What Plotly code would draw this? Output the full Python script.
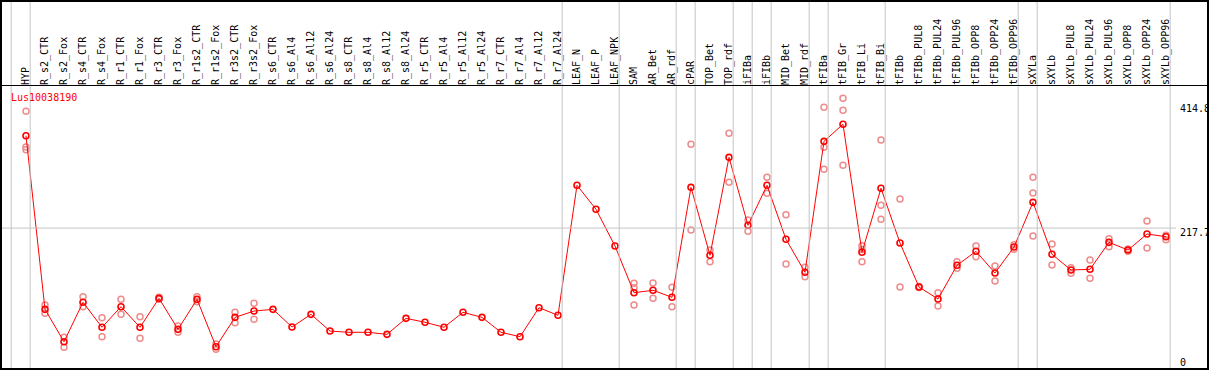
import plotly.graph_objects as go

W, H = 1209, 370

categories = [
    "HYP", "R_s2_CTR", "R_s2_Fox", "R_s4_CTR", "R_s4_Fox", "R_r1_CTR", "R_r1_Fox",
    "R_r3_CTR", "R_r3_Fox", "R_r1s2_CTR", "R_r1s2_Fox", "R_r3s2_CTR", "R_r3s2_Fox",
    "R_s6_CTR", "R_s6_Al4", "R_s6_Al12", "R_s6_Al24", "R_s8_CTR", "R_s8_Al4",
    "R_s8_Al12", "R_s8_Al24", "R_r5_CTR", "R_r5_Al4", "R_r5_Al12", "R_r5_Al24",
    "R_r7_CTR", "R_r7_Al4", "R_r7_Al12", "R_r7_Al24", "LEAF_N", "LEAF_P", "LEAF_NPK",
    "SAM", "AR_Bet", "AR_rdf", "cPAR", "TOP_Bet", "TOP_rdf", "iFIBa", "iFIBb",
    "MID_Bet", "MID_rdf", "tFIBa", "tFIB_Gr", "tFIB_Li", "tFIB_Bi", "tFIBb",
    "tFIBb_PUL8", "tFIBb_PUL24", "tFIBb_PUL96", "tFIBb_OPP8", "tFIBb_OPP24",
    "tFIBb_OPP96", "sXYLa", "sXYLb", "sXYLb_PUL8", "sXYLb_PUL24", "sXYLb_PUL96",
    "sXYLb_OPP8", "sXYLb_OPP24", "sXYLb_OPP96",
]

mean_values = [
    358.1, 94.2, 45.0, 104.9, 66.9, 98.2, 66.9, 110.9, 63.8, 109.4, 37.4, 82.0, 91.6,
    94.2, 67.3, 86.6, 61.2, 59.3, 59.3, 56.2, 80.5, 74.5, 66.9, 89.7, 82.0,
    59.3, 52.6, 96.7, 85.1, 282.7, 246.2, 190.4,
    119.5, 123.1, 112.5, 279.6, 176.3, 325.2, 221.9, 282.7,
    200.6, 150.5, 349.5, 375.4, 180.9, 278.1, 195.0,
    128.1, 109.9, 161.1, 182.4, 149.4, 188.9,
    256.8, 177.8, 154.0, 155.0, 196.0, 184.3, 208.7, 204.6,
]

rep_1 = [
    395.1, 100.8, 51.7, 113.4, 81.5, 109.4, 83.0, 112.5, 68.8, 113.4, 41.5, 89.7, 103.3,
    None, None, None, None, None, None, None, None, None, None, None, None,
    None, None, None, None, None, None, None,
    133.7, 134.2, 127.7, 345.0, 184.3, 361.7, 229.9, 294.8,
    238.0, 158.1, 401.2, 414.8, 190.9, 351.5, 261.9,
    129.0, 119.5, 166.6, 190.4, 160.0, 192.4,
    294.8, 193.5, 157.4, 169.1, 201.5, 186.0, 228.4, 206.7,
]

rep_2 = [
    341.0, 88.1, 36.5, 98.2, 52.6, 86.6, 50.2, 109.5, 59.3, 105.8, 33.4, 73.9, 79.0,
    None, None, None, None, None, None, None, None, None, None, None, None,
    None, None, None, None, None, None, None,
    127.0, 110.9, 98.2, 214.7, 166.6, 287.2, 212.8, 270.5,
    163.1, 143.8, 340.4, 396.7, 185.0, 252.3, 128.1,
    127.2, 99.2, 156.5, 174.2, 137.2, 185.4,
    271.0, 161.6, 148.9, 141.3, 189.4, 182.6, 187.4, 200.0,
]

rep_3 = [
    336.8, None, None, None, None, None, None, None, None, None, None, None, None,
    None, None, None, None, None, None, None, None, None, None, None, None,
    None, None, None, None, None, None, None,
    100.8, None, None, None, None, None, None, None,
    None, None, 307.0, 313.1, 166.6, 231.0, None,
    None, None, None, None, None, None,
    205.6, None, None, None, None, None, None, None,
]

group_sizes = [1, 28, 3, 3, 1, 2, 1, 1, 2, 1, 3, 7, 1, 7]
gene_name = "Lus10038190"
scale_labels = ["414.8", "217.7", "0"]
reference_value = 217.7

FONT = "DejaVu Sans Mono"
GRAY = "#c4c4c4"


def px_x(p):
    return p / W


def px_y(p):
    return 1 - p / H


x_idx = list(range(len(categories)))

rep_x, rep_y = [], []
for reps in (rep_1, rep_2, rep_3):
    for i, v in enumerate(reps):
        if v is not None:
            rep_x.append(i)
            rep_y.append(v)

fig = go.Figure()
fig.add_trace(go.Scatter(
    x=rep_x, y=rep_y, mode="markers",
    marker=dict(symbol="circle-open", size=6, color="rgb(238,140,140)",
                line=dict(width=1.5, color="rgb(238,140,140)")),
    hoverinfo="skip", showlegend=False,
))
fig.add_trace(go.Scatter(
    x=x_idx, y=mean_values, mode="lines+markers",
    line=dict(color="red", width=1),
    marker=dict(symbol="circle-open", size=6, color="red",
                line=dict(width=1.6, color="red")),
    showlegend=False,
))

shapes = []
# group separators
ends = []
acc = -1
for s in group_sizes:
    acc += s
    ends.append(acc)
for e in [-1] + ends:
    shapes.append(dict(type="line", xref="x", yref="paper",
                       x0=e + 0.22, x1=e + 0.22, y0=px_y(369), y1=px_y(0),
                       line=dict(color=GRAY, width=1)))
# reference line
shapes.append(dict(type="line", xref="paper", yref="y",
                   x0=px_x(0), x1=px_x(1176), y0=reference_value, y1=reference_value,
                   line=dict(color=GRAY, width=1)))
# header separator
shapes.append(dict(type="line", xref="paper", yref="paper",
                   x0=px_x(0), x1=px_x(1208), y0=px_y(85.5), y1=px_y(85.5),
                   line=dict(color="black", width=1)))
# border
shapes.append(dict(type="rect", xref="paper", yref="paper",
                   x0=px_x(1), x1=px_x(1208), y0=px_y(369), y1=px_y(1),
                   line=dict(color="black", width=2), fillcolor="rgba(0,0,0,0)"))

annotations = [
    dict(text=gene_name, xref="paper", yref="paper", x=px_x(9), y=px_y(98),
         xanchor="left", yanchor="middle", showarrow=False,
         font=dict(family=FONT, size=10, color="red")),
]
for lab, yc in zip(scale_labels, [108, 232.7, 362.3]):
    annotations.append(dict(text=lab, xref="paper", yref="paper", x=px_x(1177.5), y=px_y(yc),
                            xanchor="left", yanchor="middle", showarrow=False,
                            font=dict(family=FONT, size=10, color="black")))

fig.update_layout(
    width=W, height=H,
    margin=dict(l=0, r=0, t=0, b=0),
    paper_bgcolor="white", plot_bgcolor="rgba(0,0,0,0)",
    xaxis=dict(range=[-26 / 19, (W - 26) / 19], side="top",
               tickmode="array", tickvals=x_idx, ticktext=categories,
               tickangle=-90, ticks="", showgrid=False, zeroline=False,
               showline=False, ticklabelshift=0,
               tickfont=dict(family=FONT, size=10, color="black"),
               anchor="y"),
    yaxis=dict(range=[2.0, 433.6], domain=[0, (H - 86) / H],
               showticklabels=False, showgrid=False, zeroline=False,
               ticks="", showline=False),
    shapes=shapes,
    annotations=annotations,
)

fig.write_html(
    "out.html",
    config={"displayModeBar": False},
    post_script="document.body.style.margin='0';document.body.style.overflow='hidden';",
)
